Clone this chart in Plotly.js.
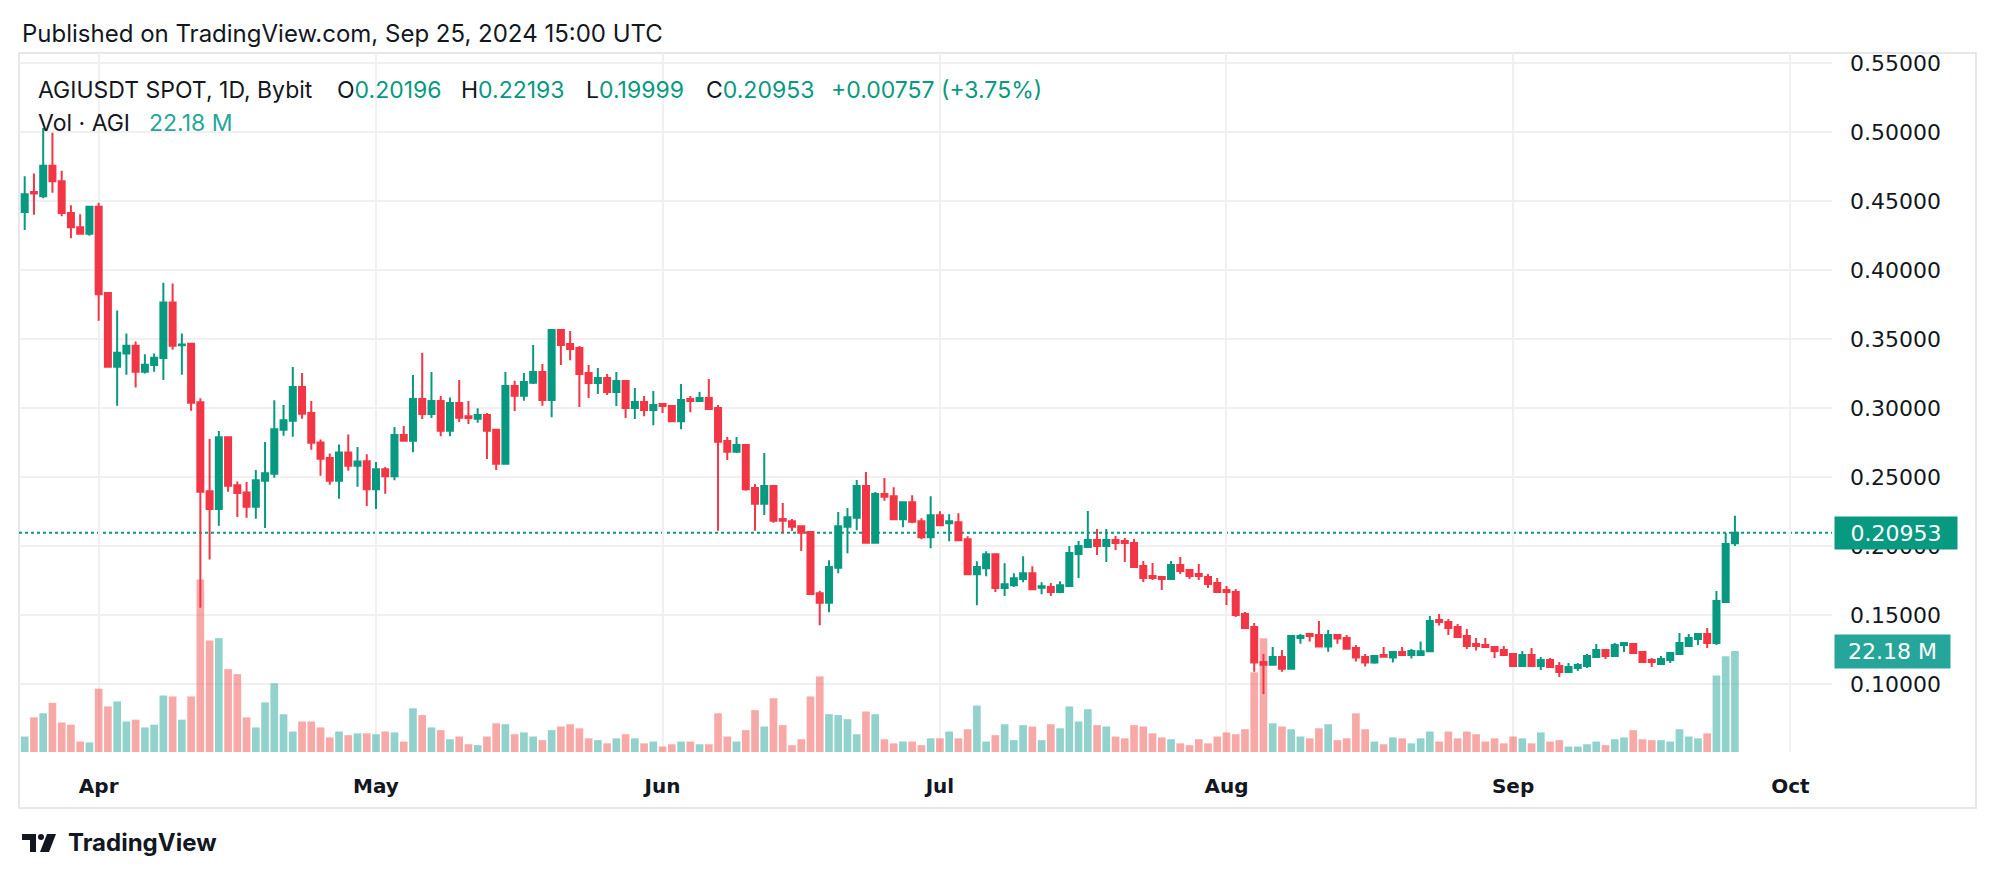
<!DOCTYPE html>
<html>
<head>
<meta charset="utf-8">
<script src="https://cdn.plot.ly/plotly-3.0.1.min.js"></script>
<style>
  html, body { margin: 0; padding: 0; background: #ffffff; }
  #chart { width: 1996px; height: 878px; }
</style>
</head>
<body>
<div id="chart"></div>
<script>
// AGIUSDT daily candles, Mar 24 -> Sep 25 2024
var firstDay = "2024-03-24";

var opens = [
  0.442, 0.4565, 0.4535, 0.4755, 0.4644, 0.4413, 0.431, 0.4263, 0.4458, 0.3833,
  0.3299, 0.3395, 0.3452, 0.3263, 0.3311, 0.3362, 0.3764, 0.3455, 0.3466, 0.3041,
  0.2397, 0.2269, 0.2789, 0.2441, 0.2388, 0.2284, 0.2472, 0.2523, 0.2842, 0.2908,
  0.3152, 0.2963, 0.275, 0.2637, 0.2472, 0.2678, 0.2581, 0.2615, 0.2412, 0.2557,
  0.2506, 0.2804, 0.2763, 0.3065, 0.2956, 0.3051, 0.2835, 0.3036, 0.2941, 0.2922,
  0.2949, 0.2843, 0.2596, 0.3159, 0.3089, 0.3183, 0.3261, 0.3058, 0.3565, 0.3464,
  0.3435, 0.3253, 0.3181, 0.3217, 0.3116, 0.3196, 0.300, 0.3043, 0.2985, 0.3029,
  0.3014, 0.2905, 0.3065, 0.3051, 0.3073, 0.300, 0.2761, 0.2683, 0.2732, 0.242,
  0.2306, 0.2434, 0.2195, 0.218, 0.2144, 0.2101, 0.1658, 0.1588, 0.1842, 0.2139,
  0.2204, 0.2434, 0.2023, 0.2376, 0.236, 0.2194, 0.2317, 0.218, 0.2064, 0.2223,
  0.2165, 0.2172, 0.2049, 0.1796, 0.1839, 0.1941, 0.1695, 0.1716, 0.176, 0.1803,
  0.1697, 0.1702, 0.1666, 0.171, 0.1942, 0.1993, 0.2043, 0.200, 0.2043, 0.2036,
  0.2022, 0.1855, 0.1783, 0.1775, 0.1761, 0.1862, 0.1826, 0.1797, 0.1775, 0.1732,
  0.1681, 0.1667, 0.1507, 0.1413, 0.1159, 0.114, 0.1196, 0.1111, 0.1333, 0.1362,
  0.1355, 0.1271, 0.1355, 0.1333, 0.1261, 0.1196, 0.1155, 0.121, 0.1191, 0.1232,
  0.121, 0.121, 0.1237, 0.1464, 0.1449, 0.1413, 0.1348, 0.129, 0.1283, 0.1268,
  0.1246, 0.1217, 0.113, 0.121, 0.113, 0.1174, 0.113, 0.1087, 0.1116, 0.113,
  0.1196, 0.1247, 0.1203, 0.1283, 0.129, 0.1232, 0.1174, 0.1145, 0.1174, 0.1218,
  0.1275, 0.1326, 0.1362, 0.1297, 0.1594, 0.20196
];
var highs = [
  0.468, 0.470, 0.503, 0.4995, 0.4719, 0.447, 0.4404, 0.4458, 0.4488, 0.3839,
  0.3707, 0.354, 0.3482, 0.339, 0.3395, 0.3908, 0.3902, 0.354, 0.347, 0.307,
  0.2775, 0.2833, 0.2796, 0.2468, 0.2463, 0.255, 0.2753, 0.3057, 0.3021, 0.3297,
  0.3253, 0.305, 0.2772, 0.2671, 0.2736, 0.2808, 0.2717, 0.2665, 0.2608, 0.2572,
  0.2862, 0.2869, 0.3239, 0.3401, 0.3261, 0.3087, 0.3077, 0.3203, 0.305, 0.2999,
  0.2963, 0.285, 0.3261, 0.3198, 0.3254, 0.3456, 0.3319, 0.3573, 0.3565, 0.3558,
  0.3449, 0.3311, 0.329, 0.3246, 0.3261, 0.3196, 0.3145, 0.3087, 0.3123, 0.3036,
  0.3014, 0.3174, 0.3087, 0.3116, 0.321, 0.3022, 0.279, 0.279, 0.2732, 0.2449,
  0.2674, 0.2434, 0.2311, 0.2195, 0.2144, 0.2101, 0.1675, 0.1897, 0.2246, 0.2275,
  0.2478, 0.2536, 0.2391, 0.2492, 0.2425, 0.2317, 0.2367, 0.2201, 0.236, 0.2252,
  0.223, 0.2237, 0.2071, 0.189, 0.1962, 0.1941, 0.1875, 0.1803, 0.1926, 0.1854,
  0.1738, 0.1731, 0.1745, 0.200, 0.2036, 0.2254, 0.2123, 0.2123, 0.2072, 0.2058,
  0.2051, 0.1891, 0.1877, 0.1783, 0.1891, 0.192, 0.1833, 0.187, 0.1797, 0.1768,
  0.171, 0.1688, 0.1522, 0.1442, 0.1217, 0.1268, 0.1246, 0.1348, 0.1362, 0.1362,
  0.1457, 0.1391, 0.1362, 0.1355, 0.1283, 0.1217, 0.1203, 0.1268, 0.1232, 0.1268,
  0.1254, 0.1307, 0.1493, 0.1507, 0.1471, 0.1435, 0.1399, 0.1333, 0.1333, 0.1268,
  0.1275, 0.1225, 0.1239, 0.1261, 0.1196, 0.1188, 0.1159, 0.1152, 0.1152, 0.1217,
  0.129, 0.1254, 0.1297, 0.1297, 0.129, 0.1239, 0.1188, 0.1203, 0.1225, 0.137,
  0.1362, 0.137, 0.1406, 0.1674, 0.2094, 0.22193
];
var lows = [
  0.429, 0.440, 0.452, 0.456, 0.4389, 0.423, 0.426, 0.4248, 0.3632, 0.3293,
  0.3017, 0.3242, 0.3149, 0.325, 0.3263, 0.3203, 0.3422, 0.3242, 0.298, 0.1553,
  0.1902, 0.2146, 0.2393, 0.2211, 0.2204, 0.2197, 0.2131, 0.2494, 0.2799, 0.2792,
  0.2922, 0.2697, 0.2509, 0.2443, 0.2342, 0.2545, 0.2429, 0.2289, 0.2269, 0.2378,
  0.2477, 0.2763, 0.268, 0.292, 0.2927, 0.2796, 0.2796, 0.2898, 0.2884, 0.2893,
  0.263, 0.255, 0.2596, 0.2978, 0.3053, 0.3174, 0.3017, 0.2934, 0.3311, 0.3347,
  0.3007, 0.3072, 0.3101, 0.3094, 0.3015, 0.2927, 0.292, 0.2941, 0.2876, 0.2963,
  0.2905, 0.2847, 0.297, 0.3044, 0.2993, 0.211, 0.2623, 0.2674, 0.240, 0.211,
  0.2224, 0.2168, 0.2096, 0.2108, 0.1963, 0.1646, 0.1426, 0.152, 0.1803, 0.1948,
  0.2115, 0.2016, 0.2023, 0.2328, 0.2194, 0.2136, 0.2165, 0.2049, 0.1984, 0.2143,
  0.2035, 0.2035, 0.1796, 0.1571, 0.1781, 0.1666, 0.1637, 0.1702, 0.1738, 0.168,
  0.1651, 0.1637, 0.1658, 0.171, 0.1768, 0.1993, 0.1935, 0.1884, 0.1971, 0.1884,
  0.1841, 0.1739, 0.1754, 0.1681, 0.1761, 0.1797, 0.1761, 0.1754, 0.1696, 0.1667,
  0.1573, 0.1486, 0.1399, 0.1089, 0.0928, 0.114, 0.1089, 0.1111, 0.1292, 0.1307,
  0.1271, 0.1234, 0.1292, 0.1256, 0.1162, 0.1126, 0.1147, 0.1191, 0.1155, 0.1205,
  0.1184, 0.1208, 0.1237, 0.1423, 0.1355, 0.1333, 0.1254, 0.1242, 0.1261, 0.1188,
  0.121, 0.113, 0.113, 0.113, 0.1102, 0.1123, 0.1051, 0.1087, 0.1094, 0.1116,
  0.1196, 0.1181, 0.1203, 0.1232, 0.1225, 0.116, 0.1123, 0.1138, 0.1152, 0.1218,
  0.1275, 0.1283, 0.1261, 0.1283, 0.1587, 0.19999
];
var closes = [
  0.455, 0.4555, 0.4755, 0.4644, 0.4413, 0.431, 0.4263, 0.4458, 0.3824, 0.3299,
  0.340, 0.3452, 0.3263, 0.3314, 0.3365, 0.3764, 0.3452, 0.3461, 0.3038, 0.2393,
  0.2269, 0.2789, 0.2436, 0.2385, 0.2284, 0.2477, 0.2528, 0.2847, 0.2912, 0.3152,
  0.2958, 0.2748, 0.2632, 0.2472, 0.2678, 0.2581, 0.2613, 0.2412, 0.2557, 0.2506,
  0.2804, 0.2763, 0.3065, 0.2956, 0.3051, 0.2835, 0.3036, 0.2929, 0.2927, 0.2949,
  0.2835, 0.2596, 0.3159, 0.3089, 0.3188, 0.3261, 0.3058, 0.3565, 0.3456, 0.3427,
  0.3246, 0.3181, 0.3217, 0.3116, 0.3196, 0.300, 0.3043, 0.2985, 0.3021, 0.3014,
  0.2905, 0.3058, 0.3051, 0.3073, 0.2993, 0.2756, 0.2683, 0.2732, 0.2412, 0.2306,
  0.2434, 0.2183, 0.2183, 0.2139, 0.2096, 0.1653, 0.1588, 0.1847, 0.2144, 0.2209,
  0.2434, 0.2023, 0.2376, 0.2357, 0.2194, 0.2317, 0.2175, 0.2064, 0.2223, 0.215,
  0.218, 0.2042, 0.1796, 0.1847, 0.1941, 0.1695, 0.1723, 0.1767, 0.1803, 0.1687,
  0.1709, 0.1666, 0.1716, 0.1949, 0.200, 0.2043, 0.200, 0.2043, 0.2022, 0.2022,
  0.1848, 0.1768, 0.1768, 0.1761, 0.1862, 0.1819, 0.1783, 0.1783, 0.1725, 0.1667,
  0.1667, 0.150, 0.1406, 0.1155, 0.114, 0.1196, 0.1111, 0.1348, 0.1348, 0.1348,
  0.1271, 0.1355, 0.1329, 0.1256, 0.1191, 0.1155, 0.1203, 0.1198, 0.1232, 0.121,
  0.1239, 0.1237, 0.1457, 0.1449, 0.1406, 0.1341, 0.1275, 0.1275, 0.1268, 0.1239,
  0.121, 0.113, 0.121, 0.113, 0.1174, 0.1123, 0.1087, 0.1123, 0.1138, 0.1203,
  0.1247, 0.1203, 0.1283, 0.1297, 0.1225, 0.116, 0.116, 0.1181, 0.1225, 0.1297,
  0.1333, 0.1362, 0.1297, 0.1601, 0.2014, 0.20953
];
// volume, millions of AGI
var volumes = [
  3.4, 7.6, 8.5, 10.8, 6.5, 6.0, 2.3, 2.1, 13.9, 10.0,
  11.1, 6.7, 7.1, 5.4, 6.0, 12.4, 12.2, 7.1, 12.2, 37.9,
  24.5, 25.0, 18.2, 17.1, 7.6, 5.4, 10.9, 15.1, 8.3, 4.5,
  6.7, 6.7, 5.4, 3.2, 4.5, 3.7, 4.1, 4.1, 3.9, 4.5,
  4.3, 2.3, 9.6, 8.1, 5.4, 4.8, 2.8, 3.4, 1.7, 1.5,
  3.4, 6.3, 6.1, 3.9, 4.3, 3.4, 2.6, 4.8, 5.6, 6.1,
  5.2, 3.0, 2.6, 1.9, 3.0, 3.9, 3.0, 1.9, 2.3, 1.2,
  1.7, 2.3, 2.3, 1.7, 1.7, 8.5, 3.4, 2.3, 4.8, 9.2,
  5.6, 11.8, 5.9, 1.5, 2.8, 12.2, 16.6, 8.3, 8.1, 7.2,
  3.9, 8.9, 8.3, 2.8, 1.9, 2.3, 2.3, 1.5, 3.0, 3.0,
  4.5, 3.0, 5.0, 10.2, 2.3, 3.7, 6.1, 2.6, 5.9, 5.6,
  2.6, 6.1, 5.2, 10.0, 6.7, 9.4, 5.9, 5.6, 3.4, 3.0,
  5.9, 5.6, 4.1, 3.2, 2.8, 1.9, 1.5, 2.8, 1.9, 3.4,
  4.3, 3.9, 5.0, 17.5, 25.0, 6.3, 5.6, 5.0, 3.4, 3.0,
  5.2, 6.1, 2.6, 3.0, 8.5, 5.0, 2.3, 1.7, 3.2, 3.0,
  1.9, 3.0, 4.5, 2.3, 4.5, 3.0, 4.5, 3.9, 2.3, 3.0,
  1.9, 3.4, 3.0, 1.9, 4.3, 2.3, 2.6, 1.2, 1.2, 1.7,
  2.3, 1.5, 2.8, 3.2, 4.8, 2.8, 2.6, 2.6, 2.3, 5.0,
  3.4, 3.0, 4.1, 16.8, 21.0, 22.18
];

var monthTicks = ["2024-04-01", "2024-05-01", "2024-06-01", "2024-07-01", "2024-08-01", "2024-09-01", "2024-10-01"];
var monthLabels = ["Apr", "May", "Jun", "Jul", "Aug", "Sep", "Oct"];
var priceTicks = [0.10, 0.15, 0.20, 0.25, 0.30, 0.35, 0.40, 0.45, 0.50, 0.55];

var UP = "#089981";
var DOWN = "#f23645";
var DAY = 86400000;
var t0 = Date.parse(firstDay + "T00:00:00Z");

function fmtDate(ms) {
  return new Date(ms).toISOString().replace("T", " ").replace("Z", "");
}

var dates = opens.map(function (o, i) {
  return new Date(t0 + i * DAY).toISOString().slice(0, 10);
});
var volColors = opens.map(function (o, i) {
  return closes[i] >= o ? "rgba(38,166,154,0.5)" : "rgba(239,83,80,0.5)";
});

// page geometry in pixels
var W = 1996, H = 878, ML = 19, MR = 164, MT = 53, MB = 126;
var PW = W - ML - MR, PH = H - MT - MB;
function px(x) { return (x - ML) / PW; }
function py(y) { return (H - MB - y) / PH; }

var volTrace = {
  type: "bar",
  x: dates,
  y: volumes,
  marker: { color: volColors, line: { width: 0 } },
  yaxis: "y",
  hoverinfo: "skip",
};

var candleTrace = {
  type: "candlestick",
  x: dates,
  open: opens,
  high: highs,
  low: lows,
  close: closes,
  yaxis: "y2",
  increasing: { line: { color: UP, width: 2 }, fillcolor: UP },
  decreasing: { line: { color: DOWN, width: 2 }, fillcolor: DOWN },
  whiskerwidth: 0,
  hoverinfo: "skip",
};

var dark = "#131722";
var green = "#089981";
var legFont = { family: "Inter, Roboto, sans-serif", size: 23, color: dark };

function legendItem(x, y, text) {
  return {
    xref: "paper", yref: "paper",
    x: px(x), y: py(y),
    xanchor: "left", yanchor: "middle",
    text: text, showarrow: false,
    font: legFont,
  };
}
function g(t) { return '<span style="color:' + green + '">' + t + "</span>"; }

var layout = {
  width: W,
  height: H,
  margin: { l: ML, r: MR, t: MT, b: MB },
  paper_bgcolor: "#ffffff",
  plot_bgcolor: "#ffffff",
  showlegend: false,
  bargap: 0.17,
  boxgap: 0.35,
  boxgroupgap: 0,
  xaxis: {
    type: "date",
    range: [fmtDate(t0 - 0.617 * DAY), fmtDate(t0 + 195.5 * DAY)],
    rangeslider: { visible: false },
    tickmode: "array",
    tickvals: monthTicks,
    ticktext: monthLabels.map(function (m) { return "<b>" + m + "</b>"; }),
    showgrid: true,
    gridcolor: "#f0f0f0",
    gridwidth: 2,
    zeroline: false,
    showline: false,
    ticks: "",
    ticklabelstandoff: 20,
    tickfont: { family: "DejaVu Sans", size: 20, color: dark },
    fixedrange: true,
  },
  yaxis: {
    range: [0, 153.5],
    visible: false,
    showgrid: false,
    fixedrange: true,
  },
  yaxis2: {
    overlaying: "y",
    side: "right",
    range: [0.0507, 0.5573],
    tickmode: "array",
    tickvals: priceTicks,
    tickformat: ".5f",
    showgrid: true,
    gridcolor: "#f0f0f0",
    gridwidth: 2,
    zeroline: false,
    showline: false,
    ticks: "",
    ticklabelstandoff: 17,
    tickfont: { family: "DejaVu Sans", size: 22, color: dark },
    fixedrange: true,
  },
  shapes: [
    // outer frame
    {
      type: "rect", xref: "paper", yref: "paper",
      x0: px(19), x1: px(1976), y0: py(808), y1: py(53),
      line: { color: "#e6e7eb", width: 2 }, fillcolor: "rgba(0,0,0,0)",
      layer: "below",
    },
    // last price line
    {
      type: "line", xref: "paper", yref: "y2",
      x0: 0, x1: 1, y0: closes[closes.length - 1], y1: closes[closes.length - 1],
      line: { color: green, width: 2, dash: "dot" },
      layer: "below",
    },
    // TradingView logo
    { type: "rect", xref: "paper", yref: "paper", x0: px(22), x1: px(36), y0: py(840), y1: py(834),
      fillcolor: dark, line: { width: 0 } },
    { type: "rect", xref: "paper", yref: "paper", x0: px(30), x1: px(36), y0: py(852), y1: py(834),
      fillcolor: dark, line: { width: 0 } },
    { type: "circle", xref: "paper", yref: "paper", x0: px(38), x1: px(44), y0: py(840), y1: py(834),
      fillcolor: dark, line: { width: 0 } },
    { type: "path", xref: "paper", yref: "paper",
      path: "M " + px(47) + "," + py(834) + " L " + px(56) + "," + py(834) + " L " + px(49) + "," + py(852) +
            " L " + px(40) + "," + py(852) + " Z",
      fillcolor: dark, line: { width: 0 } },
  ],
  annotations: [
    {
      xref: "paper", yref: "paper", x: px(20), y: py(34),
      xanchor: "left", yanchor: "middle", showarrow: false,
      text: "Published on TradingView.com, Sep 25, 2024 15:00 UTC",
      font: { family: "Inter, Roboto, sans-serif", size: 24, color: dark },
    },
    legendItem(36, 90, "AGIUSDT SPOT, 1D, Bybit"),
    legendItem(335, 90, "O" + g("0.20196")),
    legendItem(459, 90, "H" + g("0.22193")),
    legendItem(584, 90, "L" + g("0.19999")),
    legendItem(704, 90, "C" + g("0.20953")),
    legendItem(829, 90, g("+0.00757 (+3.75%)")),
    legendItem(36, 123, "Vol · AGI"),
    legendItem(147, 123, '<span style="color:#26a69a">22.18 M</span>'),
    {
      xref: "paper", yref: "paper", x: px(66), y: py(843),
      xanchor: "left", yanchor: "middle", showarrow: false,
      text: "<b>TradingView</b>",
      font: { family: "Inter, Roboto, sans-serif", size: 24, color: dark },
    },
    // last price tag
    {
      xref: "paper", yref: "y2", x: px(1834), y: closes[closes.length - 1],
      xanchor: "left", yanchor: "middle", showarrow: false,
      text: "0.20953", bgcolor: green, borderpad: 2, width: 118, height: 28,
      font: { family: "DejaVu Sans", size: 22, color: "#ffffff" },
    },
    // last volume tag
    {
      xref: "paper", yref: "y", x: px(1834), y: volumes[volumes.length - 1],
      xanchor: "left", yanchor: "middle", showarrow: false,
      text: "22.18 M", bgcolor: "#26a69a", borderpad: 2, width: 111, height: 29,
      font: { family: "DejaVu Sans", size: 22, color: "#ffffff" },
    },
  ],
};

Plotly.newPlot("chart", [volTrace, candleTrace], layout, { displayModeBar: false, staticPlot: true });
</script>
</body>
</html>
